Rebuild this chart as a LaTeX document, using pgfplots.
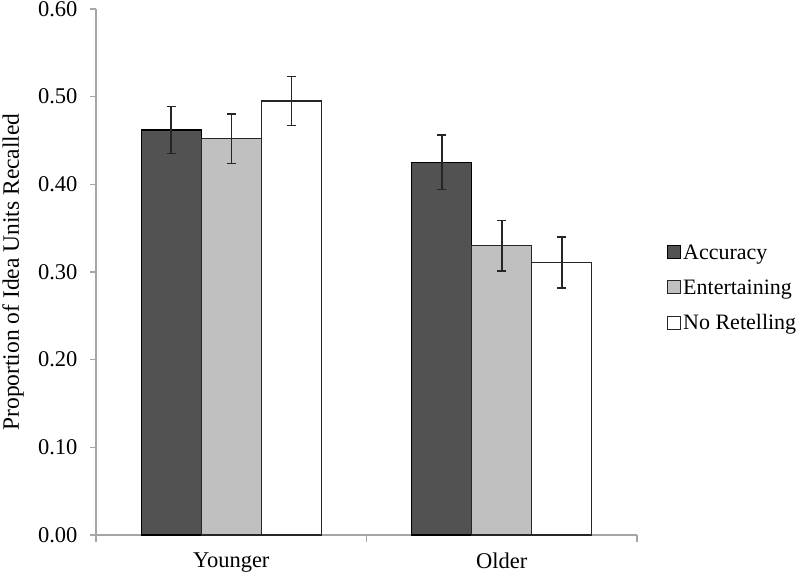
\documentclass[border=0pt]{standalone}
\usepackage{pgfplots}
\pgfplotsset{compat=1.18}
\usepackage{fontspec}
\setmainfont{Liberation Serif}
\definecolor{accC}{HTML}{525252}
\definecolor{entC}{HTML}{C0C0C0}
\definecolor{axC}{HTML}{A6A6A6}
\begin{document}
\begin{tikzpicture}
\begin{axis}[
  scale only axis, width=541pt, height=526pt,
  xmin=0, xmax=2, ymin=0, ymax=0.6,
  axis lines*=left,
  axis line style={axC, line width=1.2pt},
  every tick/.style={axC, line width=1.2pt},
  xtick={0.5,1.5}, xticklabels={Younger,Older},
  major x tick style={draw=none},
  minor xtick={0,1,2},
  minor tick length=7pt,
  major tick length=6pt,
  tick align=outside,
  ytick={0,0.1,0.2,0.3,0.4,0.5,0.6},
  yticklabel style={xshift=-9pt, /pgf/number format/.cd, fixed, fixed zerofill, precision=2, assume math mode=true},
  ticklabel style={font=\fontsize{22.5}{26}\selectfont},
  xticklabel style={yshift=-8pt},
  ylabel={Proportion of Idea Units Recalled},
  every axis y label/.style={at={(axis description cs:0,0.5)}, xshift=-83pt, anchor=center, rotate=90, font=\fontsize{23.5}{27}\selectfont},
  ybar, bar width=60pt,
  legend cell align=left,
  legend style={at={(rel axis cs:1,0.5)}, anchor=west, xshift=30pt, yshift=-16pt, draw=none, font=\fontsize{22}{26}\selectfont, row sep=15pt, inner sep=0pt, /tikz/every even column/.style={column sep=4pt}},
  legend image code/.code={\draw[#1, line width=1pt] (0pt,-6pt) rectangle (13pt,7pt);},
  error bars/y dir=both, error bars/y explicit,
  error bars/error bar style={line width=1.5pt, color=black!85},
  error bars/error mark options={rotate=90, mark size=4.5pt, line width=1.5pt, black!85},
  clip=false,
]
\addplot[fill=accC, draw=black, line width=1.2pt, bar shift=-60pt] coordinates {(0.5,0.462) +- (0,0.027) (1.5,0.425) +- (0,0.031)};
\addplot[fill=entC, draw=black!85, line width=1.2pt, bar shift=0pt] coordinates {(0.5,0.452) +- (0,0.028) (1.5,0.330) +- (0,0.029)};
\addplot[fill=white, draw=black!85, line width=1.2pt, bar shift=60pt] coordinates {(0.5,0.495) +- (0,0.028) (1.5,0.311) +- (0,0.029)};
\legend{Accuracy, Entertaining, No Retelling}
\end{axis}
\pgfresetboundingbox
\path[use as bounding box] (-96pt,-40pt) rectangle (704pt,535pt);
\end{tikzpicture}
\end{document}
